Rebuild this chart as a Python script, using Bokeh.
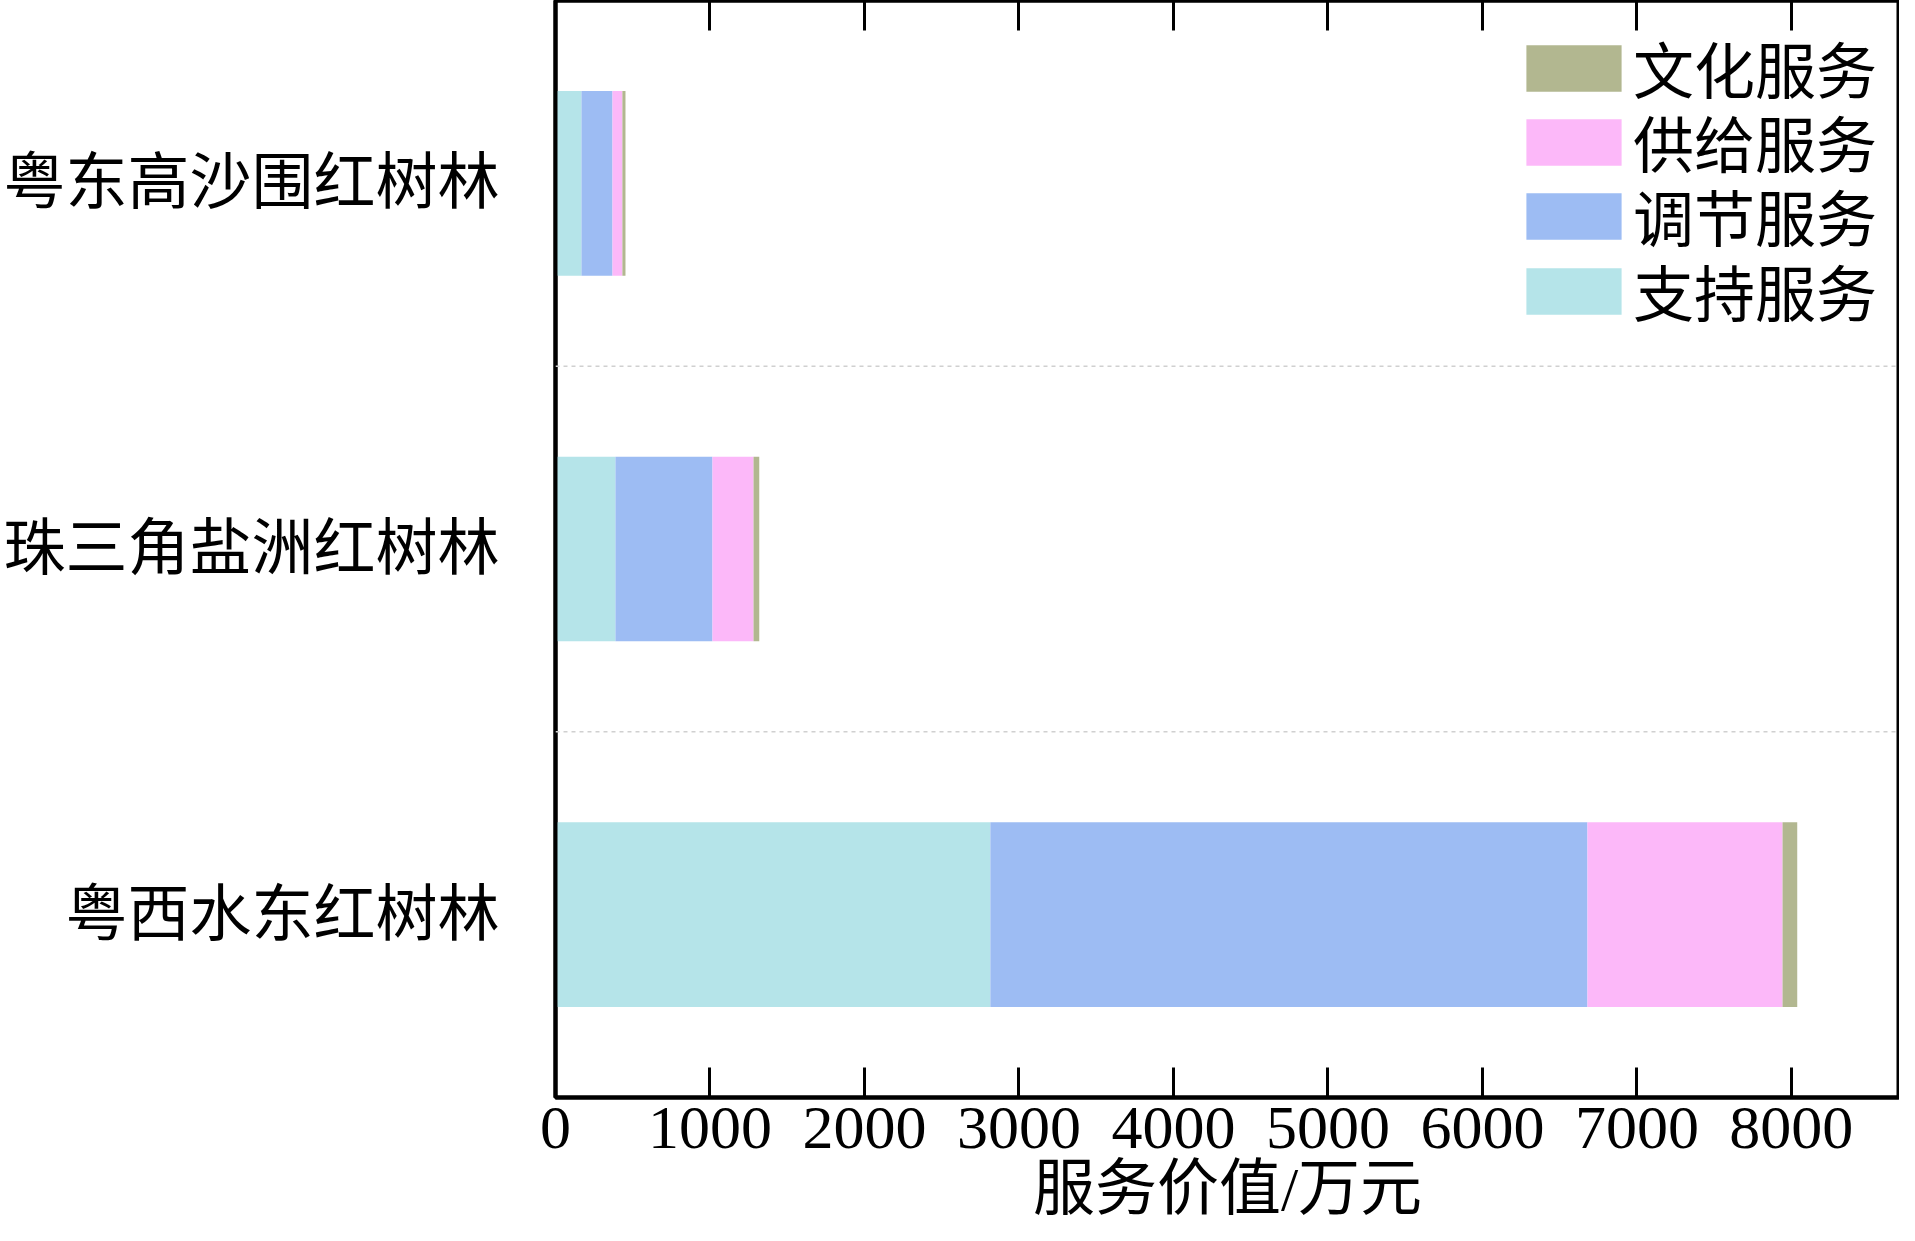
from bokeh.plotting import figure
from bokeh.models import (FactorRange, Range1d, LinearAxis, Span, Legend,
                          LegendItem, FixedTicker, ColumnDataSource)
from bokeh.embed import file_html
from bokeh.resources import INLINE

# ---- data (bottom to top) ----
categories = ["粤西水东红树林", "珠三角盐洲红树林", "粤东高沙围红树林"]
support = [2815, 388, 168]      # 支持服务
regulate = [3865, 628, 201]     # 调节服务
supply = [1263, 266, 64]        # 供给服务
culture = [95, 37, 20]          # 文化服务
services = ["支持服务", "调节服务", "供给服务", "文化服务"]
colors = ["#b5e4e9", "#9dbcf3", "#fcb8f9", "#b2b790"]
x_ticks = [0, 1000, 2000, 3000, 4000, 5000, 6000, 7000, 8000]
x_label = "服务价值/万元"

FONT = "'Liberation Serif', 'Noto Sans CJK SC'"

source = ColumnDataSource(data={
    "cat": categories,
    services[0]: support,
    services[1]: regulate,
    services[2]: supply,
    services[3]: culture,
})

p = figure(y_range=FactorRange(factors=categories), x_range=Range1d(0, 8700),
           width=1899, height=1225, output_backend="svg", toolbar_location=None,
           min_border_left=10, min_border_right=0, min_border_top=0,
           min_border_bottom=0)

renderers = p.hbar_stack(services, y="cat", height=0.505, color=colors,
                         source=source, line_color=None)

p.xgrid.visible = False
p.ygrid.visible = False
p.outline_line_color = "black"
p.outline_line_width = 4
p.outline_line_alpha = 1
p.background_fill_color = "white"
p.border_fill_color = "white"

# bottom axis
xa = p.xaxis[0]
xa.ticker = FixedTicker(ticks=x_ticks)
xa.axis_label = x_label
xa.axis_label_text_font = FONT
xa.axis_label_text_font_size = "62px"
xa.axis_label_text_font_style = "normal"
xa.axis_label_text_color = "black"
xa.axis_label_standoff = 4
xa.major_label_text_font = FONT
xa.major_label_text_font_size = "62px"
xa.major_label_text_color = "black"
xa.major_label_standoff = 10
xa.major_tick_in = 30
xa.major_tick_out = 0
xa.major_tick_line_width = 3
xa.minor_tick_line_color = None
xa.axis_line_width = 4
xa.axis_line_color = "black"

# top axis (tick marks only, labels not drawn)
top = LinearAxis(ticker=FixedTicker(ticks=x_ticks), major_label_text_font_size="1px",
                 major_label_text_color=None,
                 major_label_standoff=0, major_tick_in=30, major_tick_out=0,
                 major_tick_line_width=3, minor_tick_line_color=None,
                 axis_line_color="black", axis_line_width=4)
p.add_layout(top, "above")

# left axis
ya = p.yaxis[0]
ya.major_label_text_font = FONT
ya.major_label_text_font_size = "62px"
ya.major_label_text_color = "black"
ya.major_label_standoff = 50
ya.major_tick_line_color = None
ya.minor_tick_line_color = None
ya.axis_line_width = 4
ya.axis_line_color = "black"

# dashed separators between categories
for loc in [1, 2]:
    p.add_layout(Span(location=loc, dimension="width", line_color="#d0d0d0",
                      line_dash="4 4", line_width=1.5))

# legend: one compact entry per service, top entry = last stacked service
legend_offsets = [985, 911, 837, 762]   # screen px from frame bottom
for (s, r), vy in zip(reversed(list(zip(services, renderers))), legend_offsets):
    lg = Legend(items=[LegendItem(label=s, renderers=[r])], location=(959, vy),
                glyph_width=119, glyph_height=58,
                label_text_font=FONT, label_text_font_size="61px",
                label_text_color="black",
                label_standoff=0, spacing=0, padding=0, margin=0,
                border_line_color=None, background_fill_alpha=0)
    p.add_layout(lg)

open("out.html", "w").write(file_html(p, INLINE))
